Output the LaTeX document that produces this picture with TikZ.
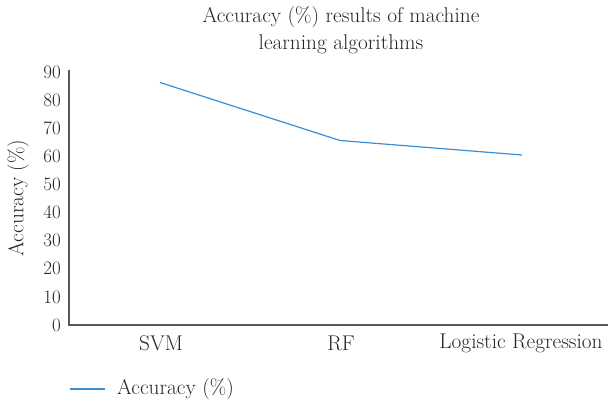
\documentclass[tikz,border=0pt]{standalone}
\usepackage{tikz}
\usepackage{amsmath}

\definecolor{seriesblue}{HTML}{3A8FD4}
\definecolor{axisgray}{HTML}{595959}

\begin{document}
\begin{tikzpicture}[x=1pt,y=-1pt]
    \tikzstyle{label}   = [font=\fontsize{21.3}{27}\selectfont, text=black!85, inner sep=0pt]
    \tikzstyle{tick}    = [label, font=\fontsize{19}{27}\selectfont, anchor=east]
    \tikzstyle{axis}    = [draw,line width=1.5pt,-,axisgray]
    \tikzstyle{series}  = [draw,line width=1.2pt,-,seriesblue]

    \useasboundingbox (0,0) rectangle (608,402);

    \node[label, align=center] (title) at (341,30.5) {Accuracy (\%) results of machine\\learning algorithms};

    \coordinate (top)    at (69,70);
    \coordinate (origin) at (69,325);
    \coordinate (xend)   at (608,325);
    \draw[axis] (top)--(origin)--(xend);

    \foreach \v in {0,10,...,90}
        \node[tick] (t\v) at (61,{325-\v*2.81}) {\v};

    \node[label, rotate=90] (ylab) at (18,198) {Accuracy (\%)};

    \node[label] (svm) at (161,343) {SVM};
    \node[label] (rf)  at (341,343) {RF};
    \node[label] (lr)  at (521,343) {Logistic Regression};

    \coordinate (p1) at (160,82.5);
    \coordinate (p2) at (340,140.5);
    \coordinate (p3) at (522,155);
    \draw[series] (p1)--(p2)--(p3);

    \coordinate (l1) at (70,389);
    \coordinate (l2) at (105,389);
    \draw[series] (l1)--(l2);
    \node[label, anchor=west] (leg) at (117,389) {Accuracy (\%)};
\end{tikzpicture}
\end{document}
